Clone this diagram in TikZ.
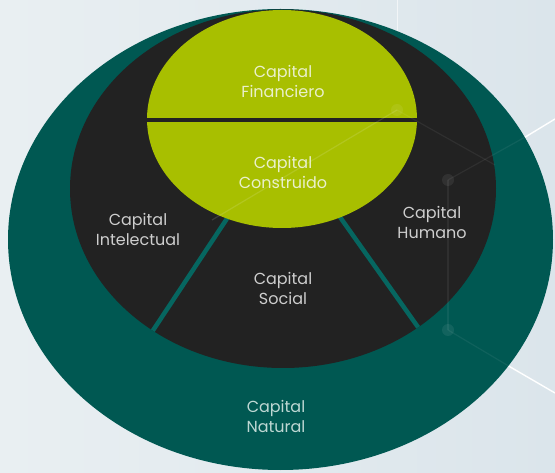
\documentclass[tikz,border=0pt]{standalone}
\usepackage{fontspec}
\setmainfont{Poppins}
\definecolor{bgA}{RGB}{233,239,242}
\definecolor{bgB}{RGB}{219,229,235}
\definecolor{tealring}{RGB}{0,88,82}
\definecolor{tealline}{RGB}{6,102,96}
\definecolor{darkcore}{RGB}{34,34,34}
\definecolor{lime}{RGB}{168,191,0}
\definecolor{limetext}{RGB}{234,240,204}
\definecolor{graytext}{RGB}{206,206,206}
\definecolor{tealtext}{RGB}{190,215,211}
\tikzset{
  lbl/.style={align=center, font=\fontsize{16}{20}\selectfont, inner sep=0pt},
  sepline/.style={draw=tealline, line width=4.5pt},
  netout/.style={draw=white, line width=1.4pt},
  netin/.style={draw=white, opacity=0.06, line width=1.2pt},
  netdot/.style={circle, fill=white, opacity=0.07, minimum size=12pt, inner sep=0pt},
}
\begin{document}
\begin{tikzpicture}[x=1pt,y=-1pt]
\useasboundingbox (0,0) rectangle (555,473);
\clip (0,0) rectangle (555,473);
\shade[left color=bgA, right color=bgB] (0,0) rectangle (555,473);

% network coordinates
\coordinate (p1) at (397,110);
\coordinate (p2) at (448,180);
\coordinate (p3) at (448,330);
\coordinate (q1) at (527,136);
\coordinate (q2) at (555,119);
\coordinate (q3) at (512,368);
\coordinate (q4) at (555,393);
\coordinate (q5) at (397,0);
\coordinate (q6) at (495,165);
\coordinate (q7) at (212,220);

% background (white) network lines
\draw[netout] (p2) -- (q1) -- (q2);
\draw[netout] (p3) -- (q3) -- (q4);
\draw[draw=white, opacity=0.6, line width=1pt] (p1) -- (q5);

% rings
\fill[tealring] (280.5,239.5) ellipse [x radius=272.5, y radius=230.5];
\fill[darkcore] (283,188.75) ellipse [x radius=213, y radius=179.25];

% separators, kept inside the dark core
\begin{scope}
  \clip (283,188.75) ellipse [x radius=213, y radius=179.25];
  \coordinate (s1a) at (232,211);
  \coordinate (s1b) at (146,341);
  \coordinate (s2a) at (335,210);
  \coordinate (s2b) at (425,337);
  \draw[sepline] (s1a) -- (s1b);
  \draw[sepline] (s2a) -- (s2b);
\end{scope}

% lime circle with divider
\fill[lime] (282,119) ellipse [x radius=135, y radius=109];
\begin{scope}
  \clip (282,119) ellipse [x radius=135, y radius=109];
  \coordinate (d1) at (140,120);
  \coordinate (d2) at (425,120);
  \draw[darkcore, line width=4pt] (d1) -- (d2);
\end{scope}

% faint overlay network
\draw[netin] (p1) -- (q6);
\draw[netin] (p2) -- (q1);
\draw[netin] (p2) -- (p3);
\draw[netin] (p3) -- (q3);
\draw[draw=white, opacity=0.12, line width=1.2pt] (p1) -- (q7);
\node[netdot] (n1) at (p1) {};
\node[netdot] (n2) at (p2) {};
\node[netdot] (n3) at (p3) {};

% labels
\node[lbl, text=limetext] (fin) at (283,81) {Capital\\Financiero};
\node[lbl, text=limetext] (con) at (283,172) {Capital\\Construido};
\node[lbl, text=graytext] (int) at (138,229.5) {Capital\\Intelectual};
\node[lbl, text=graytext] (hum) at (432,222.5) {Capital\\Humano};
\node[lbl, text=graytext] (soc) at (283,288.5) {Capital\\Social};
\node[lbl, text=tealtext] (nat) at (276,416) {Capital\\Natural};
\end{tikzpicture}
\end{document}
